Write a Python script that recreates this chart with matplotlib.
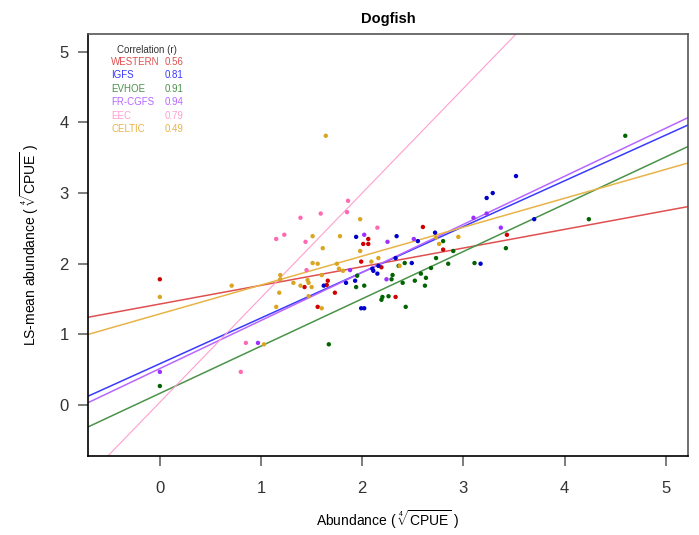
import numpy as np
import matplotlib
matplotlib.use("Agg")
import matplotlib.pyplot as plt

plt.rcParams['font.family'] = ['Liberation Sans', 'DejaVu Sans']
plt.rcParams['mathtext.fontset'] = 'custom'
plt.rcParams['mathtext.rm'] = 'Liberation Sans'
plt.rcParams['mathtext.it'] = 'Liberation Sans:italic'

surveys = ['WESTERN', 'IGFS', 'EVHOE', 'FR-CGFS', 'EEC', 'CELTIC']
corr = ['0.56', '0.81', '0.91', '0.94', '0.79', '0.49']
point_colors = ['#d00000', '#0000cd', '#006400', '#9b30ff', '#ff69b4', '#daa520']
line_colors = ['#e05050', '#3a3aff', '#4a934a', '#b866ff', '#ff9fcf', '#e8b448']

# regression lines
intercepts = [1.43, 0.585, 0.166, 0.517, 0.04, 1.29]
slopes = [0.264, 0.647, 0.669, 0.68, 1.48, 0.409]

western_x = [0, 1.43, 1.56, 1.65, 1.66, 1.73, 1.99, 2.01, 2.06, 2.06, 2.19, 2.33, 2.60, 2.80, 3.43]
western_y = [1.78, 1.67, 1.39, 1.70, 1.76, 1.59, 2.03, 2.28, 2.35, 2.28, 1.95, 1.53, 2.52, 2.20, 2.41]

igfs_x = [3.52, 3.29, 3.23, 3.70, 2.72, 1.94, 2.34, 2.55, 2.10, 2.16, 2.11, 2.15, 1.84, 1.93,
          1.62, 2.33, 2.49, 3.17, 1.99, 2.02]
igfs_y = [3.24, 3.00, 2.93, 2.63, 2.44, 2.38, 2.39, 2.32, 1.93, 1.97, 1.90, 1.86, 1.73, 1.76,
          1.69, 2.08, 2.01, 2.00, 1.37, 1.37]

evhoe_x = [0, 1.67, 1.94, 2.02, 1.95, 2.19, 2.20, 2.26, 2.30, 2.29, 2.36, 2.42, 2.40, 2.52,
           2.58, 2.63, 2.62, 2.43, 2.80, 2.90, 2.73, 2.85, 2.68, 3.11, 3.42, 4.24, 4.60]
evhoe_y = [0.27, 0.86, 1.67, 1.69, 1.83, 1.49, 1.53, 1.54, 1.84, 1.78, 1.97, 2.01, 1.73, 1.76,
           1.86, 1.80, 1.69, 1.39, 2.32, 2.18, 2.08, 2.00, 1.94, 2.01, 2.22, 2.63, 3.81]

frcgfs_x = [0, 0.97, 2.02, 2.25, 2.51, 3.10, 3.23, 3.37, 1.88, 2.24]
frcgfs_y = [0.47, 0.88, 2.41, 2.31, 2.35, 2.65, 2.71, 2.51, 1.91, 1.78]

eec_x = [1.39, 1.15, 1.23, 1.44, 1.86, 1.85, 1.59, 1.45, 2.15, 0.85, 0.80]
eec_y = [2.65, 2.35, 2.41, 2.31, 2.89, 2.73, 2.71, 1.91, 2.51, 0.88, 0.47]

celtic_x = [0, 0.71, 1.03, 1.15, 1.18, 1.19, 1.19, 1.32, 1.39, 1.46, 1.47, 1.50, 1.47, 1.60,
            1.51, 1.64, 1.51, 1.56, 1.60, 1.61, 1.75, 1.77, 1.81, 1.78, 1.98, 1.98, 2.09, 2.16,
            2.37, 2.73, 2.76, 2.95]
celtic_y = [1.53, 1.69, 0.86, 1.39, 1.59, 1.84, 1.78, 1.73, 1.69, 1.77, 1.73, 1.67, 1.54, 1.37,
            2.39, 3.81, 2.01, 2.00, 1.84, 2.22, 2.00, 1.93, 1.90, 2.39, 2.63, 2.18, 2.03, 2.08,
            1.97, 2.37, 2.28, 2.38]

xs = [western_x, igfs_x, evhoe_x, frcgfs_x, eec_x, celtic_x]
ys = [western_y, igfs_y, evhoe_y, frcgfs_y, eec_y, celtic_y]

fig = plt.figure(figsize=(6.99, 5.35), dpi=100)
ax = fig.add_axes([88 / 699, 79 / 535, 600 / 699, 422 / 535])

for i in range(len(surveys)):
    lw = 0.8 if surveys[i] == 'EEC' else 1.1
    ax.axline((0, intercepts[i]), slope=slopes[i], color=line_colors[i], lw=lw, zorder=2)
    ax.scatter(xs[i], ys[i], s=10, color=point_colors[i], edgecolors='none', zorder=3)

ax.set_xlim(-0.71, 5.22)
ax.set_ylim(-0.72, 5.25)
ax.set_xticks(range(0, 6))
ax.set_yticks(range(0, 6))
ax.tick_params(length=7, width=1.2, color='#666666', labelsize=12, labelcolor='#333333')
ax.tick_params(axis='x', pad=11)
ax.tick_params(axis='y', pad=7)
for side in ['left', 'bottom']:
    ax.spines[side].set_color('black')
    ax.spines[side].set_linewidth(1.2)
for side in ['top', 'right']:
    ax.spines[side].set_color('#555555')
    ax.spines[side].set_linewidth(1.2)

ax.set_title('Dogfish', fontsize=10.5, fontweight='bold', pad=8)
ax.set_xlabel(r'Abundance ( $\sqrt[4]{\mathrm{CPUE}}$ )', fontsize=10, labelpad=9)
ax.set_ylabel(r'LS-mean abundance ( $\sqrt[4]{\mathrm{CPUE}}$ )', fontsize=10, labelpad=13)

# correlation legend
ax.text(0.048, 0.963, 'Correlation (r)', transform=ax.transAxes,
        fontsize=7, color='#333333', va='center')
for i in range(len(surveys)):
    yy = 0.934 - i * 0.0318
    ax.text(0.039, yy, surveys[i], transform=ax.transAxes, fontsize=7,
            color=line_colors[i], va='center')
    ax.text(0.128, yy, corr[i], transform=ax.transAxes, fontsize=7,
            color=line_colors[i], va='center')

fig.savefig('out.png', dpi=100)
